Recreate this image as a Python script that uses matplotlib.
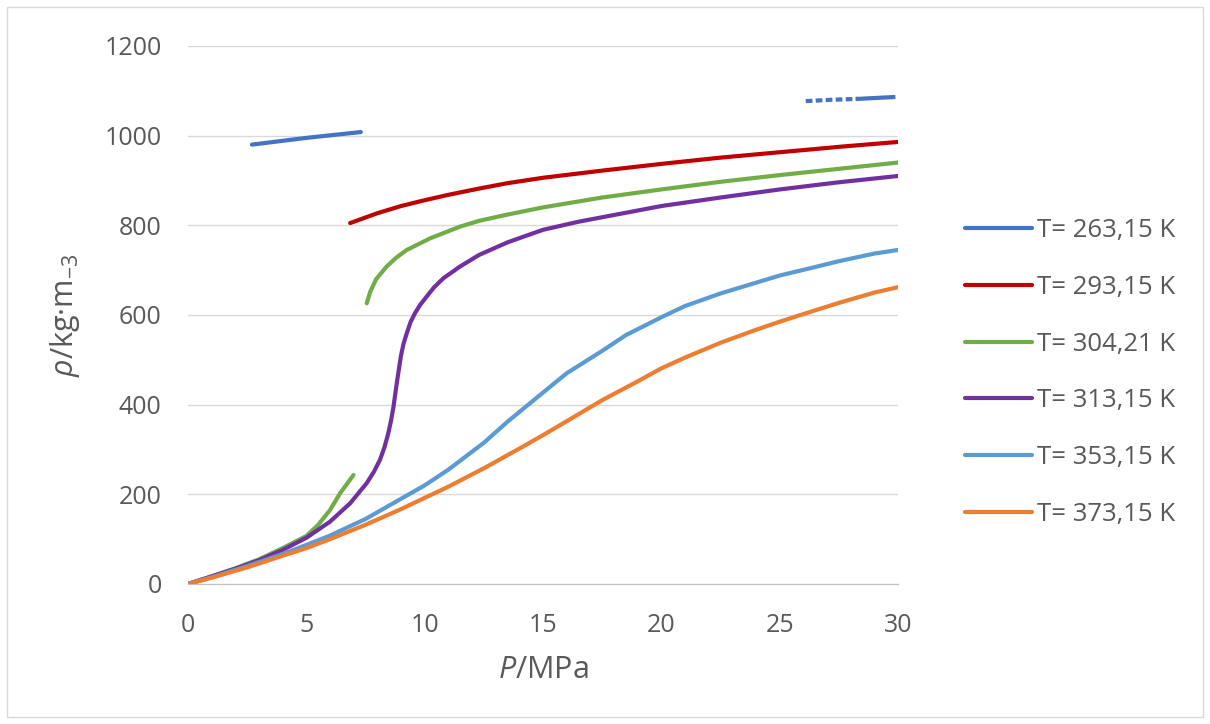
import matplotlib
matplotlib.use('Agg')
import matplotlib.pyplot as plt
from matplotlib.patches import Rectangle

plt.rcParams['font.family'] = ['Open Sans', 'DejaVu Sans']
plt.rcParams['mathtext.fontset'] = 'custom'
plt.rcParams['mathtext.rm'] = 'Open Sans'
plt.rcParams['mathtext.it'] = 'Open Sans:italic'

# Density of CO2 [kg/m3] vs pressure [MPa] for several isotherms
p_263_a = [2.7, 5.0, 7.3]
rho_263_a = [980, 995, 1008]
p_263_b = [26.1, 27.2, 28.3]
rho_263_b = [1077, 1080, 1082]
p_263_c = [28.3, 29.8]
rho_263_c = [1082, 1086]

p_293 = [6.85, 8.0, 9.0, 10.0, 11.0, 12.3, 13.5, 15.0, 17.5, 20.0, 22.5, 25.0, 27.5, 30.0]
rho_293 = [805, 827, 843, 856, 868, 882, 894, 906, 922, 937, 951, 963, 975, 986]

p_304_gas = [0.0, 1.0, 2.0, 3.0, 4.0, 5.0, 5.5, 6.0, 6.42, 6.99]
rho_304_gas = [0, 17, 35, 55, 80, 107, 132, 165, 202, 243]
p_304_liq = [7.55, 7.7, 7.95, 8.39, 8.8, 9.24, 10.23, 11.49, 12.3, 13.5, 15.0, 17.5, 20.0,
             22.5, 25.0, 27.5, 30.0]
rho_304_liq = [626, 652, 680, 708, 728, 745, 771, 797, 810, 824, 840, 862, 880,
               897, 912, 926, 940]

p_313 = [0.0, 1.0, 2.0, 3.0, 4.0, 5.0, 6.0, 6.85, 7.55, 7.85, 8.11, 8.3, 8.46, 8.58, 8.68,
         8.82, 8.99, 9.1, 9.24, 9.4, 9.59, 9.8, 10.08, 10.4, 10.79, 11.49, 12.3, 13.5, 15.0,
         16.5, 17.5, 20.0, 22.5, 25.0, 27.5, 30.0]
rho_313 = [0, 17, 34, 53, 76, 103, 139, 180, 225, 250, 277, 305, 336, 365, 395,
           448, 507, 535, 559, 584, 604, 622, 641, 662, 682, 708, 734, 762, 790,
           808, 818, 843, 862, 880, 896, 910]

p_353 = [0.0, 1.0, 2.5, 4.0, 5.0, 6.0, 7.5, 9.0, 10.0, 11.0, 12.5, 13.5, 15.0, 16.0, 17.5,
         18.5, 20.0, 21.0, 22.5, 24.0, 25.0, 26.5, 27.5, 29.0, 30.0]
rho_353 = [0, 15, 40, 67, 87, 108, 145, 190, 220, 255, 315, 362, 427, 470, 520,
           555, 595, 620, 648, 672, 688, 707, 720, 737, 745]

p_373 = [0.0, 1.0, 2.5, 4.0, 5.0, 6.0, 7.5, 9.0, 10.0, 11.0, 12.5, 14.0, 15.0, 16.0, 17.5,
         19.0, 20.0, 21.0, 22.5, 24.0, 25.0, 26.0, 27.5, 29.0, 30.0]
rho_373 = [0, 14, 37, 63, 80, 100, 132, 167, 192, 217, 258, 302, 332, 363, 410,
           452, 481, 505, 538, 567, 585, 602, 627, 650, 662]

labels = ['T= 263,15 K', 'T= 293,15 K', 'T= 304,21 K',
          'T= 313,15 K', 'T= 353,15 K', 'T= 373,15 K']
colors = ['#4472C4', '#C00000', '#70AD47', '#7030A0', '#5B9BD5', '#ED7D31']

fig = plt.figure(figsize=(12.1, 7.24), dpi=100)
ax = fig.add_axes([0.1554, 0.1934, 0.5868, 0.7431])
lw = 3.0
kw = dict(lw=lw, solid_capstyle='round', solid_joinstyle='round')

ax.plot(p_263_a, rho_263_a, color=colors[0], label=labels[0], **kw)
ax.plot(p_263_b, rho_263_b, color=colors[0], lw=lw, dashes=(1.6, 0.8))
ax.plot(p_263_c, rho_263_c, color=colors[0], lw=lw)
ax.plot(p_293, rho_293, color=colors[1], label=labels[1], **kw)
ax.plot(p_304_gas, rho_304_gas, color=colors[2], label=labels[2], **kw)
ax.plot(p_304_liq, rho_304_liq, color=colors[2], **kw)
ax.plot(p_313, rho_313, color=colors[3], label=labels[3], **kw)
ax.plot(p_353, rho_353, color=colors[4], label=labels[4], **kw)
ax.plot(p_373, rho_373, color=colors[5], label=labels[5], **kw)

ax.set_xlim(0, 30)
ax.set_ylim(0, 1200)
ax.set_xticks(range(0, 31, 5))
ax.set_yticks(range(0, 1201, 200))
ax.grid(axis='y', color='#d9d9d9', lw=1)
ax.set_axisbelow(True)
for s in ['top', 'right', 'left']:
    ax.spines[s].set_visible(False)
ax.spines['bottom'].set_color('#bfbfbf')
ax.tick_params(length=0, labelsize=18, colors='#595959')
ax.tick_params(axis='y', pad=19)
ax.tick_params(axis='x', pad=21)

ax.set_xlabel('$\\mathit{P}$/MPa', fontsize=22, color='#595959', labelpad=12)
ax.set_ylabel('$\\mathit{\\rho}$/kg·m$_{-3}$', fontsize=22, color='#595959', labelpad=16)

fig.legend(loc='upper left', bbox_to_anchor=(0.7785, 0.731), frameon=False,
           fontsize=18.5, handlelength=2.6, handletextpad=0.2, labelspacing=1.24,
           labelcolor='#595959')

fig.patches.append(Rectangle((0.006, 0.01), 0.988, 0.98, transform=fig.transFigure,
                             fill=False, edgecolor='#d9d9d9', lw=1))

fig.savefig('out.png', dpi=100)
